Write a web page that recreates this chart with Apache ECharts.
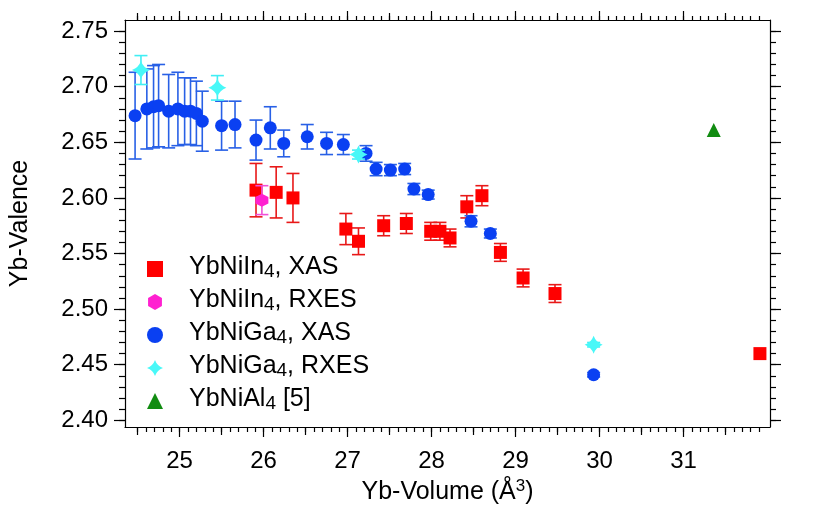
<!DOCTYPE html>
<html><head><meta charset="utf-8">
<script src="https://cdn.jsdelivr.net/npm/echarts@6/dist/echarts.min.js"></script>
<style>html,body{margin:0;padding:0;background:#fff}#c{width:830px;height:520px}</style>
</head><body><div id="c"></div>
<script>
// ---- data ----
const inXasX   = [25.91, 26.15, 26.35, 26.98, 27.13, 27.43, 27.70, 27.99, 28.10, 28.22, 28.42, 28.60, 28.82, 29.09, 29.47, 31.91];
const inXasY   = [2.607, 2.605, 2.600, 2.572, 2.561, 2.575, 2.577, 2.570, 2.570, 2.564, 2.592, 2.602, 2.551, 2.528, 2.514, 2.460];
const inXasErr = [0.024, 0.023, 0.022, 0.014, 0.012, 0.009, 0.009, 0.008, 0.008, 0.008, 0.010, 0.009, 0.008, 0.008, 0.008, 0];

const inRxesX   = [25.98];
const inRxesY   = [2.598];
const inRxesErr = [0.013];

const gaXasX   = [24.47, 24.61, 24.69, 24.75, 24.87, 24.98, 25.06, 25.13, 25.20, 25.27, 25.50, 25.66, 25.91, 26.08, 26.24, 26.52, 26.75, 26.95, 27.22, 27.34, 27.51, 27.68, 27.79, 27.96, 28.47, 28.70, 29.93];
const gaXasY   = [2.674, 2.680, 2.682, 2.683, 2.678, 2.680, 2.678, 2.678, 2.676, 2.669, 2.665, 2.666, 2.652, 2.663, 2.649, 2.655, 2.649, 2.648, 2.640, 2.626, 2.625, 2.626, 2.608, 2.603, 2.579, 2.568, 2.441];
const gaXasErr = [0.039, 0.036, 0.037, 0.037, 0.033, 0.033, 0.030, 0.030, 0.029, 0.027, 0.022, 0.021, 0.018, 0.019, 0.012, 0.011, 0.010, 0.009, 0.007, 0.006, 0.005, 0.005, 0.005, 0.004, 0.005, 0.004, 0.002];

const gaRxesX   = [24.54, 25.45, 27.13, 29.93];
const gaRxesY   = [2.715, 2.699, 2.639, 2.468];
const gaRxesErr = [0.013, 0.011, 0.004, 0.002];

const alX = [31.36];
const alY = [2.661];

const seriesNames = ['YbNiIn4, XAS', 'YbNiIn4, RXES', 'YbNiGa4, XAS', 'YbNiGa4, RXES', 'YbNiAl4 [5]'];

const xLabelValues = [25, 26, 27, 28, 29, 30, 31];
const yLabelValues = [2.40, 2.45, 2.50, 2.55, 2.60, 2.65, 2.70, 2.75];
const X_MIN = 24.35, X_MAX = 32.03, Y_MIN = 2.394, Y_MAX = 2.760;

// tick positions
const xHalfTicks = [], xMinorTicks = [], yMinorTicks = [];
for (let i = 245; i <= 319; i++) { xMinorTicks.push(i / 10); if (i % 5 === 0 && i % 10 !== 0) xHalfTicks.push(i / 10); }
for (let i = 240; i <= 275; i++) yMinorTicks.push(i / 100);

// ---- styling ----
const FONT = '"Liberation Sans", Arial, sans-serif';
const STAR = 'path://M0,-10 Q2.6,-2.6 10,0 Q2.6,2.6 0,10 Q-2.6,2.6 -10,0 Q-2.6,-2.6 0,-10 Z';
const HEX = 'path://M0,-10 L8.66,-5 L8.66,5 L0,10 L-8.66,5 L-8.66,-5 Z';

function pts(xs, ys) { return xs.map((x, i) => [x, ys[i]]); }

function errSeries(xs, ys, es, color, z) {
  return {
    type: 'custom', z: z, silent: true, clip: false,
    data: xs.map((x, i) => [x, ys[i], es[i]]),
    encode: { x: 0, y: 1 },
    renderItem(params, api) {
      const x = api.value(0), y = api.value(1), e = api.value(2);
      if (!e) return null;
      const t = api.coord([x, y + e]), b = api.coord([x, y - e]);
      const hw = 6.5, st = { stroke: color, lineWidth: 1.6 };
      return { type: 'group', children: [
        { type: 'line', shape: { x1: t[0], y1: t[1], x2: b[0], y2: b[1] }, style: st },
        { type: 'line', shape: { x1: t[0] - hw, y1: t[1], x2: t[0] + hw, y2: t[1] }, style: st },
        { type: 'line', shape: { x1: b[0] - hw, y1: b[1], x2: b[0] + hw, y2: b[1] }, style: st }
      ]};
    }
  };
}

function tickAxis(pos, isX, values, len, showLine, extra) {
  const a = {
    type: 'value', position: pos,
    min: isX ? X_MIN : Y_MIN, max: isX ? X_MAX : Y_MAX,
    axisLine: { show: showLine, lineStyle: { color: '#000', width: 1.2 } },
    axisTick: { show: true, inside: false, length: len, customValues: values, lineStyle: { color: '#000', width: 1.2 } },
    axisLabel: { show: false },
    splitLine: { show: false }
  };
  return Object.assign(a, extra || {});
}

const xAxes = [
  tickAxis('bottom', true, xLabelValues, 10, true, {
    axisLabel: { show: true, customValues: xLabelValues, margin: 22, fontSize: 24, color: '#000', fontFamily: FONT, formatter: v => String(Math.round(v)) },
    name: 'Yb-Volume (Å{sup|3})', nameLocation: 'middle', nameGap: 51,
    nameTextStyle: { fontSize: 25, color: '#000', fontFamily: FONT, lineHeight: 28,
      rich: { sup: { fontSize: 17, fontFamily: FONT, color: '#000', lineHeight: 12, verticalAlign: 'top' } } }
  }),
  tickAxis('bottom', true, xHalfTicks, 8, false),
  tickAxis('bottom', true, xMinorTicks, 5, false),
  tickAxis('top', true, xLabelValues, 9, true),
  tickAxis('top', true, xHalfTicks, 7, false),
  tickAxis('top', true, xMinorTicks, 4, false)
];
const yAxes = [
  tickAxis('left', false, yLabelValues, 11, true, {
    axisLabel: { show: true, customValues: yLabelValues, margin: 17, fontSize: 24, color: '#000', fontFamily: FONT, formatter: v => v.toFixed(2) },
    name: 'Yb-Valence', nameLocation: 'middle', nameGap: 92,
    nameTextStyle: { fontSize: 25, color: '#000', fontFamily: FONT }
  }),
  tickAxis('left', false, yMinorTicks, 6, false),
  tickAxis('right', false, yLabelValues, 11, true),
  tickAxis('right', false, yMinorTicks, 6, false)
];

const option = {
  backgroundColor: '#fff',
  animation: false,
  grid: { left: 123, right: 60, top: 20, bottom: 93, containLabel: false },
  xAxis: xAxes,
  yAxis: yAxes,
  legend: {
    orient: 'vertical', left: 142, top: 248, itemGap: 1,
    itemWidth: 16, itemHeight: 16,
    data: [
      { name: seriesNames[0], icon: 'rect' },
      { name: seriesNames[1], icon: HEX },
      { name: seriesNames[2], icon: 'circle' },
      { name: seriesNames[3], icon: STAR },
      { name: seriesNames[4], icon: 'triangle' }
    ],
    formatter: n => n.replace(/([A-Za-z])4/, '$1{sub|4}'),
    textStyle: { fontSize: 25, color: '#000', fontFamily: FONT, lineHeight: 28, padding: [0, 0, 4, 21],
      rich: { sub: { fontSize: 19, fontFamily: FONT, color: '#000', lineHeight: 12, verticalAlign: 'bottom' } } }
  },
  series: [
    errSeries(inXasX, inXasY, inXasErr, '#e81818', 2),
    { type: 'scatter', name: seriesNames[0], z: 3, symbol: 'rect', symbolSize: 13, data: pts(inXasX, inXasY), itemStyle: { color: '#ff0000', opacity: 1 } },
    errSeries(inRxesX, inRxesY, inRxesErr, '#f050d8', 4),
    { type: 'scatter', name: seriesNames[1], z: 5, symbol: HEX, symbolSize: 13, data: pts(inRxesX, inRxesY), itemStyle: { color: '#ff20d0', opacity: 1 } },
    errSeries(gaXasX, gaXasY, gaXasErr, '#2860e6', 6),
    { type: 'scatter', name: seriesNames[2], z: 7, symbol: 'circle', symbolSize: 13, data: pts(gaXasX, gaXasY), itemStyle: { color: '#0a40f2', opacity: 1 } },
    errSeries(gaRxesX, gaRxesY, gaRxesErr, '#40eef4', 8),
    { type: 'scatter', name: seriesNames[3], z: 9, symbol: STAR, symbolSize: 18, data: pts(gaRxesX, gaRxesY), itemStyle: { color: '#48f8f8', opacity: 1 } },
    { type: 'scatter', name: seriesNames[4], z: 10, symbol: 'triangle', symbolSize: 14, data: pts(alX, alY), itemStyle: { color: '#118c11', opacity: 1 } }
  ]
};
const chart = echarts.init(document.getElementById('c'));
chart.setOption(option);
</script>
</body></html>
